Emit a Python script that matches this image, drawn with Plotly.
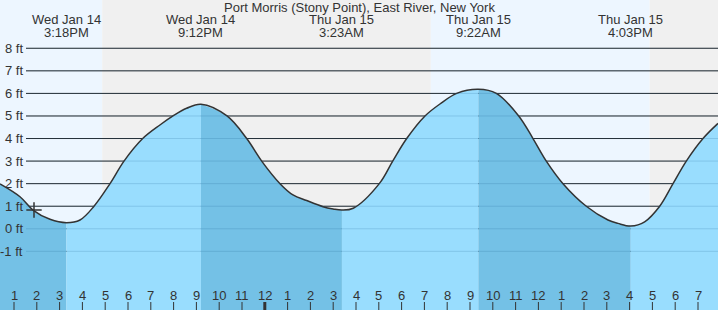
import plotly.graph_objects as go

# ---- data (hours since midnight Wed Jan 14) ----
times_h = [12.386, 13.263, 13.833, 14.579, 15.3, 15.895, 16.509, 17.211, 17.825,
           18.645, 19.40, 19.974, 20.57, 21.2, 22.342, 23.206, 23.864,
           24.667, 25.237, 25.838, 26.553, 27.0, 27.383, 27.88, 29.022,
           29.61, 30.224, 31.026, 31.68, 32.417, 33.367, 34.154, 35.136,
           35.763, 36.346, 37.079, 38.101, 39.053, 39.49, 40.05, 40.66, 41.32,
           41.904, 42.487, 43.219, 43.877]
heights_ft = [1.99, 1.42, 0.83, 0.42, 0.27, 0.39, 1.0, 2.0, 3.0,
              4.0, 4.6, 5.0, 5.34, 5.52, 5.0, 4.0, 3.0,
              2.0, 1.5, 1.25, 0.98, 0.88, 0.83, 0.91, 2.0,
              3.0, 4.0, 5.0, 5.53, 6.0, 6.18, 6.0, 5.0,
              4.0, 3.0, 2.0, 1.0, 0.39, 0.24, 0.12, 0.31, 1.0,
              2.0, 3.0, 4.0, 4.67]

extreme_times = [15.3, 21.2, 27.383, 33.367, 40.05]
extreme_dates = ["Wed Jan 14", "Wed Jan 14", "Thu Jan 15", "Thu Jan 15", "Thu Jan 15"]
extreme_clock = ["3:18PM", "9:12PM", "3:23AM", "9:22AM", "4:03PM"]

sun_events = [16.87, 31.28, 40.88]   # sunset, sunrise, sunset

hour_ticks = list(range(13, 44))
y_grid = [-1, 0, 1, 2, 3, 4, 5, 6, 7, 8]
y_grid_labels = ["-1 ft", "0 ft", "1 ft", "2 ft", "3 ft", "4 ft", "5 ft", "6 ft", "7 ft", "8 ft"]

now_time = 13.877
now_height = 0.83

title = "Port Morris (Stony Point), East River, New York"

# ---- styles ----
X0, X1 = 12.386, 43.877
Y0, Y1 = -3.6, 10.14
DAY = "rgb(237,246,255)"
NIGHT = "rgb(240,240,240)"
RISE = "rgb(153,221,254)"
FALL = "rgb(116,193,230)"
TXT = "#333333"
FONT = "Liberation Sans, Arial, sans-serif"
FS = 13

fig = go.Figure()

# background day/night
bounds = [X0] + sun_events + [X1]
for i in range(len(bounds) - 1):
    fig.add_shape(type="rect", xref="x", yref="paper", x0=bounds[i], x1=bounds[i + 1],
                  y0=0, y1=1, fillcolor=DAY if i % 2 == 0 else NIGHT,
                  line_width=0, layer="below")

# dark grid lines (below traces)
for g in y_grid:
    fig.add_shape(type="line", xref="paper", yref="y", x0=26 / 718, x1=1, y0=g, y1=g,
                  line=dict(color="rgb(40,40,40)", width=1), layer="below")

# water fill segments split at extremes
cuts = [0] + [times_h.index(t) for t in extreme_times] + [len(times_h) - 1]
falling = heights_ft[1] < heights_ft[0]
for k in range(len(cuts) - 1):
    a, b = cuts[k], cuts[k + 1]
    xs = times_h[a:b + 1]
    ys = heights_ft[a:b + 1]
    fig.add_trace(go.Scatter(x=[xs[0], xs[-1]], y=[Y0 - 1, Y0 - 1], mode="lines",
                             line=dict(width=0), hoverinfo="skip", showlegend=False))
    fig.add_trace(go.Scatter(x=xs, y=ys, mode="lines", fill="tonexty",
                             fillcolor=FALL if falling else RISE,
                             line=dict(width=0, shape="spline"),
                             hoverinfo="skip", showlegend=False))
    falling = not falling

# tide curve
fig.add_trace(go.Scatter(x=times_h, y=heights_ft, mode="lines",
                         line=dict(color="#333333", width=1.5, shape="spline"),
                         showlegend=False))

# current position marker
fig.add_trace(go.Scatter(x=[now_time], y=[now_height], mode="markers",
                         marker=dict(symbol="cross-thin", size=11,
                                     line=dict(color="#333333", width=1.5)),
                         showlegend=False))

# faint grid lines through the water
for g in y_grid:
    fig.add_shape(type="line", xref="paper", yref="y", x0=26 / 718, x1=1, y0=g, y1=g,
                  line=dict(color="rgba(20,90,140,0.18)", width=1), layer="above")

# y labels
for g, lab in zip(y_grid, y_grid_labels):
    fig.add_annotation(x=24 / 718, xref="paper", y=g, yref="y", text=lab, showarrow=False,
                       xanchor="right", yanchor="middle", borderpad=0,
                       font=dict(family=FONT, size=FS, color=TXT))

# hour ticks and labels
for h in hour_ticks:
    lab = str((h - 1) % 12 + 1)
    fig.add_annotation(x=h, xref="x", y=1 - 295.5 / 310, yref="paper", text=lab,
                       showarrow=False, xanchor="center", yanchor="middle", borderpad=0,
                       font=dict(family=FONT, size=FS, color=TXT))
    fig.add_shape(type="line", xref="x", yref="paper", x0=h, x1=h, y0=0, y1=8 / 310,
                  line=dict(color="#333333", width=3 if h == 24 else 1))

# top labels
fig.add_annotation(x=0.5, xref="paper", y=1 - 7.5 / 310, yref="paper", text=title,
                   showarrow=False, xanchor="center", yanchor="middle", borderpad=0,
                   font=dict(family=FONT, size=FS, color=TXT))
for t, d, c in zip(extreme_times, extreme_dates, extreme_clock):
    fig.add_annotation(x=t, xref="x", y=1 - 19.8 / 310, yref="paper", text=d,
                       showarrow=False, xanchor="center", yanchor="middle", borderpad=0,
                       font=dict(family=FONT, size=FS, color=TXT))
    fig.add_annotation(x=t, xref="x", y=1 - 32 / 310, yref="paper", text=c,
                       showarrow=False, xanchor="center", yanchor="middle", borderpad=0,
                       font=dict(family=FONT, size=FS, color=TXT))

fig.update_layout(
    width=718, height=310, margin=dict(l=0, r=0, t=0, b=0),
    paper_bgcolor="white", plot_bgcolor="white",
    xaxis=dict(range=[X0, X1], visible=False, fixedrange=True),
    yaxis=dict(range=[Y0, Y1], visible=False, fixedrange=True),
    showlegend=False,
)

fig.write_html("out.html")
